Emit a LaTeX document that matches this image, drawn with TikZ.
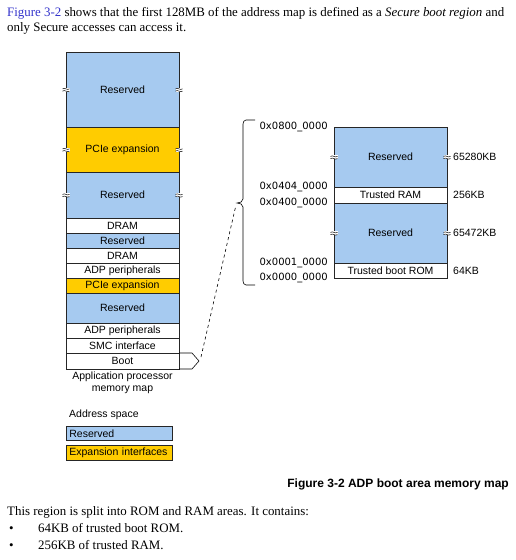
\documentclass[tikz,border=0pt]{standalone}
\usepackage{fontspec}
\setmainfont{Liberation Serif}
\setsansfont{Liberation Sans}
\newfontfamily\hexfont{DejaVu Sans}
\usetikzlibrary{positioning, calc}
\definecolor{resblue}{HTML}{A6CAF0}
\definecolor{pcigold}{HTML}{FFCC00}
\definecolor{linkblue}{HTML}{3333CC}

% break mark on a box edge
\newcommand{\brkmark}[1]{%
  \fill[white] ($(#1)+(-3.5,-2)$) rectangle ($(#1)+(3.5,2)$);
  \draw[line width=0.5pt] ($(#1)+(-3.5,-0.6)$) .. controls ($(#1)+(-1,-2.4)$) and ($(#1)+(1,1.2)$) .. ($(#1)+(3.5,-0.6)$);
  \draw[line width=0.5pt] ($(#1)+(-3.5,1.6)$) .. controls ($(#1)+(-1,-0.2)$) and ($(#1)+(1,3.4)$) .. ($(#1)+(3.5,1.6)$);}

\begin{document}
\begin{tikzpicture}[x=1pt, y=-1pt,
  font=\sffamily\fontsize{10.5}{12}\selectfont,
  mem/.style={rectangle, draw=black!85, line width=0.8pt, minimum width=113pt, inner sep=0pt, outer sep=0pt, anchor=north},
  body/.style={anchor=base west, inner sep=0pt, font=\rmfamily\fontsize{12.9}{15}\selectfont},
  hex/.style={inner sep=0pt, font=\hexfont\fontsize{10}{12}\selectfont},
  size/.style={inner sep=0pt},
  legend/.style={rectangle, draw=black!85, line width=0.8pt, anchor=north west, text width=100pt, inner xsep=3pt, inner ysep=0pt, align=left}]

\useasboundingbox (0,0) rectangle (516,560);
\fill[white] (0,0) rectangle (516,560);

% text above the figure
\node[body] (intro1) at (7,16) {\textcolor{linkblue}{Figure 3-2} shows that the first 128MB of the address map is defined as a \textit{Secure boot region} and};
\node[body] (intro2) at (7,31) {only Secure accesses can access it.};

% application processor memory map
\node[mem, fill=resblue, minimum height=75pt] (res1) at (122.5,52) {Reserved};
\node[mem, fill=pcigold, minimum height=45pt, below=0pt of res1] (pcie1) {PCIe expansion};
\node[mem, fill=resblue, minimum height=46pt, below=0pt of pcie1] (res2) {Reserved};
\node[mem, fill=white, minimum height=15pt, below=0pt of res2] (dram1) {DRAM};
\node[mem, fill=resblue, minimum height=15pt, below=0pt of dram1] (res3) {Reserved};
\node[mem, fill=white, minimum height=15pt, below=0pt of res3] (dram2) {DRAM};
\node[mem, fill=white, minimum height=15pt, below=0pt of dram2] (adp1) {ADP peripherals};
\node[mem, fill=pcigold, minimum height=15pt, below=0pt of adp1] (pcie2) {PCIe expansion};
\node[mem, fill=resblue, minimum height=30pt, below=0pt of pcie2] (res4) {Reserved};
\node[mem, fill=white, minimum height=15pt, below=0pt of res4] (adp2) {ADP peripherals};
\node[mem, fill=white, minimum height=15pt, below=0pt of adp2] (smc) {SMC interface};
\node[mem, fill=white, minimum height=16pt, below=0pt of smc] (boot) {Boot};

\brkmark{res1.west} \brkmark{res1.east}
\brkmark{pcie1.west} \brkmark{pcie1.east}
\brkmark{res2.west} \brkmark{res2.east}

\node[below=3pt of boot, align=center, inner sep=0pt] (apcap) {Application processor\\memory map};

% legend
\node[anchor=west, inner sep=0pt] (addr) at (69,415) {Address space};
\node[legend, fill=resblue, minimum height=14pt] (legres) at (66,426) {Reserved};
\node[legend, fill=pcigold, minimum height=15pt, below=4pt of legres.south west, anchor=north west] (legexp) {Expansion interfaces};

% boot area memory map
\node[mem, fill=resblue, minimum height=60pt] (rres1) at (390.5,127) {Reserved};
\node[mem, fill=white, minimum height=16pt, below=0pt of rres1] (tram) {Trusted RAM};
\node[mem, fill=resblue, minimum height=60pt, below=0pt of tram] (rres2) {Reserved};
\node[mem, fill=white, minimum height=15pt, below=0pt of rres2] (trom) {Trusted boot ROM};

\brkmark{rres1.west} \brkmark{rres1.east}
\brkmark{rres2.west} \brkmark{rres2.east}

\node[hex, left=6pt of rres1.north west] (a0800) {0x0800\_0000};
\node[hex, left=6pt of tram.north west] (a0404) {0x0404\_0000};
\node[hex, left=6pt of tram.south west] (a0400) {0x0400\_0000};
\node[hex, left=6pt of trom.north west] (a0001) {0x0001\_0000};
\node[hex, left=6pt of trom.south west] (a0000) {0x0000\_0000};

\node[size, right=6pt of rres1.east] (s1) {65280KB};
\node[size, right=6pt of tram.east] (s2) {256KB};
\node[size, right=6pt of rres2.east] (s3) {65472KB};
\node[size, right=6pt of trom.east] (s4) {64KB};

% brace and zoom link
\coordinate (bracetip) at (237,203);
\coordinate (boottip) at (199,361);
\draw[line width=0.6pt] (255,120) -- (246,120) to[out=180,in=90] (243,124) -- (243,199) to[out=-90,in=0] (bracetip) to[out=0,in=90] (243,207) -- (243,281) to[out=-90,in=180] (246,285) -- (255,285);
\draw[line width=0.6pt] (boot.north east) -- (192,353) -- (boottip) -- (192,369) -- (boot.south east);
\draw[line width=0.6pt, dashed] ($(boottip)+(2,-4)$) -- ($(bracetip)+(-1,2)$);

% caption and text below
\node[anchor=base east, inner sep=0pt, font=\sffamily\bfseries\fontsize{12}{14}\selectfont] (figcap) at (509,487) {Figure 3-2 ADP boot area memory map};
\node[body] (split) at (7,515) {This region is split into ROM and RAM areas. It contains:};
\node[body] (bul1) at (9,532) {•};
\node[body] (item1) at (38,532) {64KB of trusted boot ROM.};
\node[body] (bul2) at (9,549) {•};
\node[body] (item2) at (38,549) {256KB of trusted RAM.};
\end{tikzpicture}
\end{document}
